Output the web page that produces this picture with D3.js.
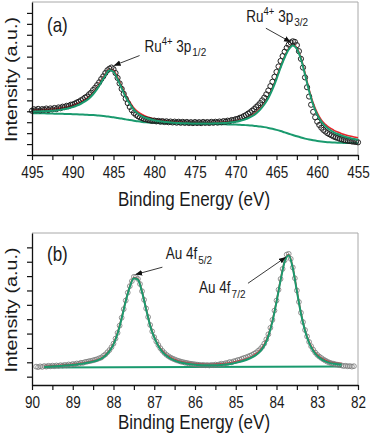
<!DOCTYPE html>
<html>
<head>
<meta charset="utf-8">
<script src="https://cdn.jsdelivr.net/npm/d3@7"></script>
<style>
  body { margin: 0; background: #fff; }
  svg text { font-family: "Liberation Sans", Arial, sans-serif; fill: #1a1a1a; }
</style>
</head>
<body>
<svg id="chart" width="371" height="438"></svg>
<script>
//////////////////////
// Data: panel (a) Ru 3p
//////////////////////
var ruStart = 495, ruEnd = 455;
var ruFitStep = 0.5, ruDataStep = 0.25;

var ruEnvelope = [4.12, 4.13, 4.15, 4.16, 4.18, 4.21, 4.24, 4.29, 4.36, 4.44, 4.54, 4.68, 4.85, 5.06, 5.34, 5.72,
  6.2, 6.8, 7.4, 7.85, 7.75, 7.1, 6.3, 5.45, 4.85, 4.3, 3.95, 3.7, 3.52, 3.4, 3.3, 3.23, 3.17, 3.12, 3.08,
  3.05, 3.02, 3.0, 2.98, 2.97, 2.96, 2.95, 2.95, 2.95, 2.96, 2.97, 2.99, 3.01, 3.04, 3.08, 3.13, 3.2, 3.3,
  3.45, 3.65, 3.92, 4.28, 4.75, 5.35, 6.15, 7.1, 8.15, 9.05, 9.75, 10.1, 9.8, 8.9, 7.5, 6.0, 4.75, 3.85,
  3.2, 2.8, 2.5, 2.28, 2.1, 1.95, 1.83, 1.73, 1.64, 1.57];

var ruFit = [3.96, 3.97, 3.99, 4.0, 4.02, 4.05, 4.08, 4.13, 4.2, 4.28, 4.38, 4.52, 4.69, 4.9, 5.18, 5.56,
  6.05, 6.65, 7.28, 7.75, 7.62, 6.95, 6.12, 5.28, 4.68, 4.14, 3.8, 3.56, 3.39, 3.27, 3.18, 3.11, 3.06, 3.01,
  2.98, 2.95, 2.93, 2.91, 2.9, 2.89, 2.88, 2.88, 2.88, 2.88, 2.89, 2.9, 2.91, 2.93, 2.96, 3.0, 3.05, 3.12,
  3.22, 3.36, 3.55, 3.81, 4.16, 4.62, 5.21, 6.0, 6.95, 8.0, 8.92, 9.65, 10.02, 9.7, 8.78, 7.36, 5.86, 4.6,
  3.7, 3.05, 2.63, 2.33, 2.1, 1.92, 1.77, 1.65, 1.55, 1.47, 1.4];

var ruBackground = [3.82, 3.82, 3.81, 3.81, 3.8, 3.79, 3.78, 3.77, 3.76, 3.75, 3.74, 3.73, 3.71, 3.69, 3.67,
  3.65, 3.62, 3.59, 3.55, 3.5, 3.45, 3.39, 3.33, 3.26, 3.2, 3.14, 3.08, 3.03, 2.99, 2.96, 2.94, 2.92, 2.91,
  2.9, 2.89, 2.88, 2.87, 2.87, 2.86, 2.86, 2.85, 2.85, 2.84, 2.84, 2.83, 2.83, 2.82, 2.81, 2.8, 2.79, 2.78,
  2.76, 2.74, 2.72, 2.69, 2.65, 2.61, 2.55, 2.48, 2.4, 2.3, 2.19, 2.07, 1.95, 1.83, 1.71, 1.6, 1.5, 1.41,
  1.34, 1.28, 1.23, 1.19, 1.16, 1.14, 1.12, 1.11, 1.1, 1.09, 1.09, 1.08];

var ruCounts = [4.05, 4.18, 4.1, 4.22, 4.08, 4.2, 4.14, 4.25, 4.12, 4.26, 4.18, 4.3, 4.2, 4.35, 4.28, 4.42,
  4.38, 4.5, 4.47, 4.6, 4.62, 4.7, 4.8, 4.88, 5.0, 5.1, 5.25, 5.35, 5.55, 5.7, 5.95, 6.15, 6.4, 6.65, 6.95,
  7.2, 7.5, 7.75, 7.9, 8.0, 7.85, 7.5, 7.05, 6.55, 6.05, 5.6, 5.15, 4.75, 4.4, 4.1, 3.85, 3.68, 3.55, 3.45,
  3.38, 3.3, 3.26, 3.2, 3.18, 3.12, 3.15, 3.08, 3.12, 3.05, 3.1, 3.02, 3.08, 3.0, 3.06, 2.98, 3.05, 2.96,
  3.04, 2.95, 3.03, 2.94, 3.02, 2.93, 3.0, 2.92, 3.01, 2.93, 3.0, 2.92, 3.02, 2.94, 3.01, 2.93, 3.03, 2.95,
  3.04, 2.97, 3.06, 3.0, 3.1, 3.04, 3.14, 3.1, 3.2, 3.18, 3.28, 3.3, 3.4, 3.45, 3.56, 3.65, 3.78, 3.9, 4.05,
  4.2, 4.38, 4.55, 4.75, 5.0, 5.25, 5.55, 5.9, 6.3, 6.7, 7.15, 7.6, 8.1, 8.6, 9.05, 9.45, 9.8, 10.1, 10.3,
  10.4, 10.35, 10.05, 9.5, 8.8, 8.0, 7.1, 6.2, 5.35, 4.6, 3.95, 3.45, 3.05, 2.75, 2.5, 2.3, 2.15, 2.0, 1.9,
  1.8, 1.7, 1.62, 1.56, 1.48, 1.44, 1.38, 1.35, 1.3, 1.28, 1.24, 1.22, 1.2, 1.16];

var ruTicksX = [495, 490, 485, 480, 475, 470, 465, 460, 455];

//////////////////////
// Data: panel (b) Au 4f
//////////////////////
var auFitStart = 89.7, auFitStep = 0.1;
var auDataStart = 89.9, auDataStep = 0.05;

var auEnvelope = [0.73, 0.74, 0.76, 0.78, 0.8, 0.82, 0.84, 0.87, 0.9, 0.94, 0.98, 1.03, 1.1, 1.18, 1.3, 1.5,
  1.82, 2.3, 3.05, 4.1, 5.3, 6.3, 6.9, 6.8, 5.95, 4.75, 3.6, 2.78, 2.2, 1.8, 1.52, 1.33, 1.2, 1.11, 1.04,
  0.99, 0.95, 0.92, 0.9, 0.89, 0.88, 0.88, 0.89, 0.9, 0.92, 0.95, 0.99, 1.05, 1.12, 1.2, 1.3, 1.43, 1.6,
  1.85, 2.25, 2.9, 3.9, 5.25, 6.75, 8.05, 8.5, 7.6, 6.0, 4.45, 3.25, 2.42, 1.88, 1.52, 1.3, 1.14, 1.04,
  0.98, 0.94, 0.92];

var auFit = [0.68, 0.69, 0.71, 0.73, 0.75, 0.77, 0.79, 0.82, 0.85, 0.89, 0.93, 0.98, 1.05, 1.13, 1.25, 1.45,
  1.77, 2.25, 3.0, 4.05, 5.25, 6.25, 6.85, 6.75, 5.9, 4.7, 3.55, 2.73, 2.14, 1.73, 1.45, 1.25, 1.12, 1.02,
  0.95, 0.9, 0.86, 0.83, 0.81, 0.8, 0.79, 0.79, 0.8, 0.81, 0.83, 0.86, 0.9, 0.96, 1.03, 1.11, 1.21, 1.34,
  1.51, 1.76, 2.16, 2.82, 3.83, 5.2, 6.7, 8.0, 8.45, 7.55, 5.95, 4.4, 3.2, 2.36, 1.81, 1.45, 1.22, 1.06,
  0.96, 0.9, 0.86, 0.84];

var auBackgroundE = [89.7, 86, 82.4];
var auBackground = [0.63, 0.67, 0.71];

var auCounts = [0.7, 0.66, 0.72, 0.68, 0.74, 0.7, 0.76, 0.72, 0.77, 0.73, 0.78, 0.75, 0.8, 0.77, 0.82, 0.79,
  0.85, 0.82, 0.88, 0.86, 0.92, 0.9, 0.97, 0.96, 1.02, 1.04, 1.08, 1.1, 1.14, 1.18, 1.22, 1.28, 1.33, 1.45,
  1.55, 1.7, 1.85, 2.05, 2.3, 2.65, 3.05, 3.55, 4.1, 4.7, 5.3, 5.85, 6.3, 6.65, 6.95, 6.95, 6.8, 6.45, 5.95,
  5.35, 4.75, 4.15, 3.6, 3.15, 2.75, 2.45, 2.2, 1.98, 1.8, 1.65, 1.52, 1.42, 1.33, 1.26, 1.2, 1.14, 1.1,
  1.05, 1.02, 0.98, 0.96, 0.92, 0.9, 0.88, 0.86, 0.84, 0.83, 0.8, 0.82, 0.79, 0.81, 0.78, 0.82, 0.8, 0.84,
  0.82, 0.86, 0.9, 0.88, 0.94, 0.95, 1.02, 1.0, 1.07, 1.1, 1.16, 1.18, 1.25, 1.3, 1.34, 1.4, 1.46, 1.52,
  1.6, 1.68, 1.8, 1.92, 2.08, 2.3, 2.6, 2.95, 3.4, 3.95, 4.6, 5.3, 6.05, 6.8, 7.5, 8.1, 8.5, 8.55, 8.2, 7.6,
  6.85, 6.0, 5.2, 4.45, 3.8, 3.25, 2.8, 2.42, 2.12, 1.88, 1.68, 1.52, 1.4, 1.3, 1.2, 1.12, 1.04, 0.98, 0.93,
  0.9, 0.86, 0.83, 0.8, 0.78, 0.74, 0.76, 0.72, 0.74, 0.7, 0.73];

var auTicksX = [90, 89, 88, 87, 86, 85, 84, 83, 82];

//////////////////////
// Helpers
//////////////////////
var svg = d3.select("#chart");
var RED = "#e8262b", GREEN = "#1a9a6e";
var STRETCH = 1.16;   // the original figure is slightly taller than wide

svg.append("defs").append("marker")
    .attr("id", "head")
    .attr("viewBox", "0 0 10 10")
    .attr("refX", 9).attr("refY", 5)
    .attr("markerWidth", 7).attr("markerHeight", 7)
    .attr("markerUnits", "userSpaceOnUse")
    .attr("orient", "auto")
    .append("path").attr("d", "M0,1 L10,5 L0,9 Z").attr("fill", "#111");

function pairs(start, step, values) {
    return values.map(function(v, i) { return [start - i * step, v]; });
}

function label(g, px, py, size) {
    return g.append("text")
        .attr("transform", "translate(" + px + "," + py + ") scale(1," + STRETCH + ")")
        .attr("font-size", size + "px");
}

function drawPanel(p) {

    var g = svg.append("g");
    var x = d3.scaleLinear().domain(p.xDomain).range([p.left, p.right]);
    var y = d3.scaleLinear().domain(p.yDomain).range([p.bottom, p.top]);

    var line = d3.line()
        .x(function(d) { return x(d[0]); })
        .y(function(d) { return y(d[1]); })
        .curve(d3.curveMonotoneX);

    // frame (top / right light grey)
    g.append("path")
        .attr("d", "M" + p.left + "," + p.top + "H" + p.right + "V" + p.bottom)
        .attr("fill", "none").attr("stroke", "#a8a8a8").attr("stroke-width", 1);

    // background, envelope, fit
    g.append("path").datum(p.background).attr("d", line)
        .attr("fill", "none").attr("stroke", GREEN).attr("stroke-width", 2);
    g.append("path").datum(p.envelope).attr("d", line)
        .attr("fill", "none").attr("stroke", RED).attr("stroke-width", 1.6);

    // measured counts
    g.append("g").selectAll("circle")
        .data(p.counts)
        .enter().append("circle")
            .attr("cx", function(d) { return x(d[0]); })
            .attr("cy", function(d) { return y(d[1]); })
            .attr("r", p.r)
            .attr("fill", "none")
            .attr("stroke", p.dotColor)
            .attr("stroke-width", p.dotWidth);

    g.append("path").datum(p.fit).attr("d", line)
        .attr("fill", "none").attr("stroke", GREEN).attr("stroke-width", 2);

    // axes
    var xAxis = d3.axisBottom(x)
        .tickValues(p.xTickValues)
        .tickSize(5).tickSizeOuter(0)
        .tickFormat(function(d) { return p.xLabels.indexOf(d) >= 0 ? d3.format("d")(d) : ""; });
    var ax = g.append("g").attr("transform", "translate(0," + p.bottom + ")").call(xAxis);
    ax.select(".domain").attr("stroke", "#111").attr("stroke-width", 1.3);
    ax.selectAll(".tick line").attr("stroke", "#111").attr("stroke-width", 1.2);
    ax.selectAll(".tick text")
        .attr("font-size", "13.5px")
        .attr("font-family", "Liberation Sans, Arial, sans-serif")
        .attr("fill", "#1a1a1a")
        .attr("y", 10)
        .attr("transform", "scale(1," + STRETCH + ")");

    var yAxis = d3.axisLeft(y)
        .tickValues(p.yTickValues)
        .tickSize(5).tickSizeOuter(0)
        .tickFormat("");
    var ay = g.append("g").attr("transform", "translate(" + p.left + ",0)").call(yAxis);
    ay.select(".domain").attr("stroke", "#111").attr("stroke-width", 1.3);
    ay.selectAll(".tick line").attr("stroke", "#111").attr("stroke-width", 1.2);

    // axis titles
    label(g, (p.left + p.right) / 2 - 1, p.bottom + p.titleGap, 17)
        .attr("text-anchor", "middle")
        .text("Binding Energy (eV)");

    g.append("text")
        .attr("transform", "translate(17," + ((p.top + p.bottom) / 2 + 1) + ") scale(1," + STRETCH + ") rotate(-90)")
        .attr("text-anchor", "middle")
        .attr("font-size", "17px")
        .text("Intensity (a.u.)");

    // panel letter
    label(g, p.left + 15, p.top + p.letterDy, 17).text(p.letter);

    // peak labels with arrows
    p.notes.forEach(function(n) {
        g.append("line")
            .attr("x1", x(n.from[0])).attr("y1", y(n.from[1]))
            .attr("x2", x(n.to[0])).attr("y2", y(n.to[1]))
            .attr("stroke", "#222").attr("stroke-width", 0.9)
            .attr("marker-end", "url(#head)");

        var t = label(g, x(n.at[0]), y(n.at[1]), 13.5);
        t.append("tspan").text(n.main);
        if (n.sup) {
            t.append("tspan").attr("font-size", "9.5px").attr("dy", -6).text(n.sup);
            t.append("tspan").attr("dy", 6).text(" ");
        } else {
            t.append("tspan").text(" ");
        }
        t.append("tspan").text(n.orbital);
        t.append("tspan").attr("font-size", "10px").attr("dx", 1).attr("dy", 4).text(n.sub);
    });
}

//////////////////////
// Panels
//////////////////////
drawPanel({
    left: 32, right: 358, top: 2, bottom: 155,
    xDomain: [ruStart, ruEnd], yDomain: [0, 14],
    xTickValues: d3.range(ruStart, ruEnd - 0.1, -2.5),
    xLabels: ruTicksX,
    yTickValues: d3.range(0, 14, 1),
    counts: pairs(ruStart, ruDataStep, ruCounts),
    envelope: pairs(ruStart, ruFitStep, ruEnvelope),
    fit: pairs(ruStart, ruFitStep, ruFit),
    background: pairs(ruStart, ruFitStep, ruBackground),
    r: 2.6, dotColor: "#222", dotWidth: 1,
    titleGap: 51, letterDy: 30, letter: "(a)",
    notes: [
        { main: "Ru", sup: "4+", orbital: "3p", sub: "1/2", at: [481.2, 9.45], from: [481.8, 9.1], to: [484.9, 8.2] },
        { main: "Ru", sup: "4+", orbital: "3p", sub: "3/2", at: [468.7, 12.2], from: [466.3, 11.6], to: [463.3, 10.35] }
    ]
});

drawPanel({
    left: 32, right: 358, top: 233, bottom: 385,
    xDomain: [90, 82], yDomain: [-0.58, 10],
    xTickValues: d3.range(90, 81.9, -0.5),
    xLabels: auTicksX,
    yTickValues: d3.range(0, 10, 1),
    counts: pairs(auDataStart, auDataStep, auCounts),
    envelope: pairs(auFitStart, auFitStep, auEnvelope),
    fit: pairs(auFitStart, auFitStep, auFit),
    background: auBackgroundE.map(function(e, i) { return [e, auBackground[i]]; }),
    r: 2.4, dotColor: "#777", dotWidth: 0.8,
    titleGap: 44, letterDy: 28, letter: "(b)",
    notes: [
        { main: "Au", orbital: "4f", sub: "5/2", at: [86.72, 8.2], from: [86.8, 7.62], to: [87.45, 7.12] },
        { main: "Au", orbital: "4f", sub: "7/2", at: [85.9, 5.8], from: [84.7, 6.5], to: [83.78, 8.3] }
    ]
});
</script>
</body>
</html>
